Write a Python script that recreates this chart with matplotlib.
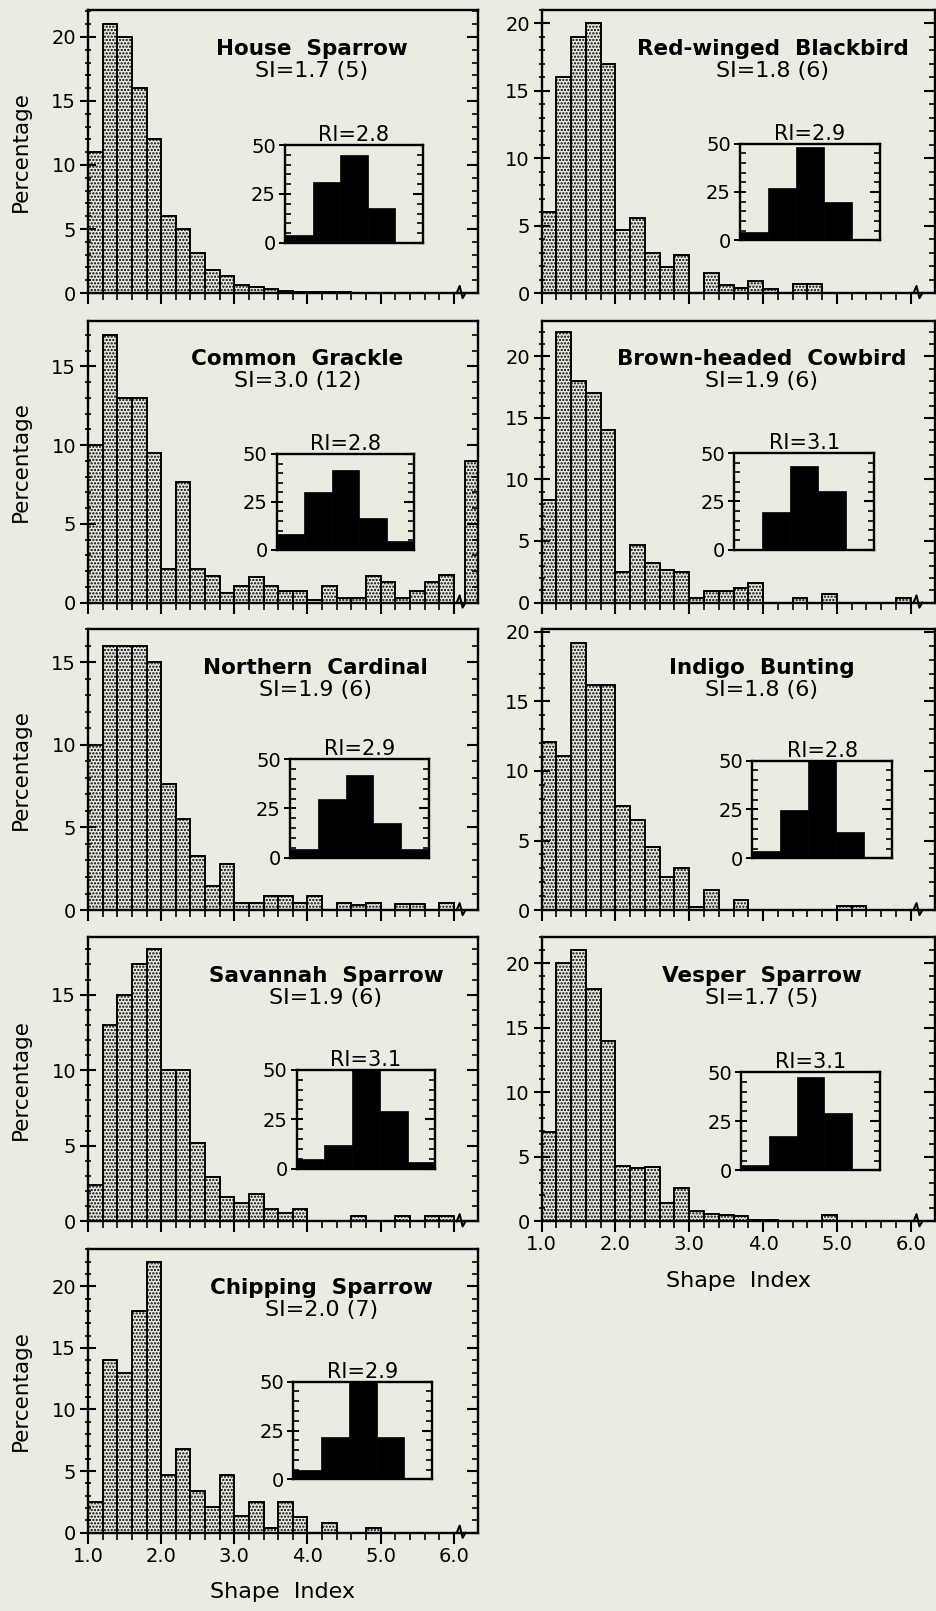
import numpy as np
import matplotlib
matplotlib.use("Agg")
from matplotlib import pyplot as plt
from matplotlib.ticker import MultipleLocator, FixedLocator, NullLocator
from matplotlib.transforms import blended_transform_factory

# Percentage of territories in each Shape Index class (bins of 0.2 from 1.0 to 6.0)
bin_left = np.round(np.arange(1.0, 6.0, 0.2), 1)

house_sparrow = [11, 21, 20, 16, 12, 6, 5, 3.1, 1.8, 1.3, 0.65, 0.5, 0.3, 0.15, 0.1,
                 0.1, 0.1, 0.05, 0, 0, 0, 0, 0, 0, 0]
red_winged = [6, 16, 19, 20, 17, 4.7, 5.6, 3.0, 1.9, 2.8, 0, 1.5, 0.6, 0.4, 0.9,
              0.3, 0, 0.7, 0.7, 0, 0, 0, 0, 0, 0]
grackle = [10, 17, 13, 13, 9.5, 2.1, 7.65, 2.1, 1.7, 0.6, 1.05, 1.6, 1.05, 0.75, 0.75,
           0.15, 1.05, 0.3, 0.3, 1.7, 1.3, 0.3, 0.75, 1.3, 1.75]
cowbird = [8.3, 22, 18, 17, 14, 2.5, 4.7, 3.2, 2.65, 2.5, 0.35, 0.95, 0.95, 1.15, 1.6,
           0, 0, 0.4, 0, 0.7, 0, 0, 0, 0, 0.4]
cardinal = [10, 16, 16, 16, 15, 7.6, 5.5, 3.3, 1.45, 2.8, 0.4, 0.4, 0.85, 0.85, 0.45,
            0.85, 0, 0.45, 0.3, 0.45, 0, 0.35, 0.35, 0, 0.45]
bunting = [12.1, 11.1, 19.2, 16.2, 16.2, 7.5, 6.5, 4.55, 2.4, 3.0, 0.25, 1.45, 0, 0.75, 0,
           0, 0, 0, 0, 0, 0.3, 0.3, 0, 0, 0]
savannah = [2.4, 13, 15, 17, 18, 10, 10, 5.2, 2.9, 1.6, 1.2, 1.8, 0.8, 0.55, 0.8,
            0, 0, 0, 0.35, 0, 0, 0.35, 0, 0.35, 0.35]
vesper = [6.9, 20, 21, 18, 14, 4.3, 4.1, 4.2, 1.4, 2.6, 0.8, 0.6, 0.5, 0.4, 0.1,
          0.1, 0, 0, 0, 0.5, 0, 0, 0, 0, 0]
chipping = [2.5, 14, 13, 18, 22, 4.7, 6.8, 3.4, 2.1, 4.7, 1.35, 2.5, 0.35, 2.5, 1.3,
            0, 0.8, 0, 0, 0.35, 0, 0, 0, 0, 0]

# only the grackle has territories beyond the axis break
over_six = {"Common Grackle": 9.0}

# inset: Regularity Index classes 1-5
ri_house = [4, 31, 45, 18, 0]
ri_redwing = [4.3, 27, 48, 20, 0]
ri_grackle = [8.2, 30, 41.8, 16.7, 4.4]
ri_cowbird = [0, 19.8, 43.4, 30.5, 0]
ri_cardinal = [4.3, 30, 42, 17.4, 4.3]
ri_bunting = [3.75, 24.7, 52, 13.7, 0]
ri_savannah = [5, 11.8, 52, 29.2, 3.4]
ri_vesper = [3, 17.7, 47.5, 29.2, 0]
ri_chipping = [5, 21.8, 52, 21.5, 0]

names = ["House Sparrow", "Red-winged Blackbird", "Common Grackle",
         "Brown-headed Cowbird", "Northern Cardinal", "Indigo Bunting",
         "Savannah Sparrow", "Vesper Sparrow", "Chipping Sparrow"]
si_labels = ["SI=1.7 (5)", "SI=1.8 (6)", "SI=3.0 (12)", "SI=1.9 (6)", "SI=1.9 (6)",
             "SI=1.8 (6)", "SI=1.9 (6)", "SI=1.7 (5)", "SI=2.0 (7)"]
ri_labels = ["RI=2.8", "RI=2.9", "RI=2.8", "RI=3.1", "RI=2.9", "RI=2.8", "RI=3.1",
             "RI=3.1", "RI=2.9"]
series = [house_sparrow, red_winged, grackle, cowbird, cardinal, bunting,
          savannah, vesper, chipping]
ri_series = [ri_house, ri_redwing, ri_grackle, ri_cowbird, ri_cardinal, ri_bunting,
             ri_savannah, ri_vesper, ri_chipping]
y_max = [22.1, 21, 17.9, 22.9, 17, 20.2, 18.8, 22, 23]

# layout (figure fractions, axes fractions)
BG = "#ecebe1"
col_x = [(0.0939, 0.4162), (0.5781, 0.4197)]
row_y = [(0.8181, 0.1757), (0.6260, 0.1750), (0.4351, 0.1744), (0.2419, 0.1763),
         (0.0486, 0.1759)]
title_x = [0.574, 0.587, 0.537, 0.559, 0.584, 0.559, 0.610, 0.559, 0.599]
inset_rect = [[0.505, 0.177, 0.354, 0.346], [0.504, 0.186, 0.356, 0.342],
              [0.484, 0.187, 0.352, 0.340], [0.490, 0.187, 0.355, 0.343],
              [0.518, 0.187, 0.356, 0.349], [0.536, 0.184, 0.355, 0.348],
              [0.535, 0.185, 0.356, 0.348], [0.507, 0.179, 0.353, 0.346],
              [0.526, 0.188, 0.357, 0.345]]
bottom_panels = {7, 8}

plt.rcParams["font.family"] = "DejaVu Sans"
plt.rcParams["hatch.linewidth"] = 1.1
LW = 1.7
HATCH = "....."


def right_ticks(ax, major, minor, lmaj, lmin):
    """inward ticks on the right edge, the left side keeps its own style"""
    axr = ax.twinx()
    axr.set_ylim(ax.get_ylim())
    axr.yaxis.set_major_locator(MultipleLocator(major))
    axr.yaxis.set_minor_locator(MultipleLocator(minor))
    axr.tick_params(which="major", direction="in", length=lmaj, width=1.5, labelright=False)
    axr.tick_params(which="minor", direction="in", length=lmin, width=1.2)
    for s in axr.spines.values():
        s.set_visible(False)
    return axr


fig = plt.figure(figsize=(9.37, 16.11), dpi=100, facecolor=BG)

for i, name in enumerate(names):
    col = i % 2
    row = i // 2
    x0, w = col_x[col]
    y0, h = row_y[row]
    ax = fig.add_axes([x0, y0, w, h], facecolor=BG)

    ax.bar(bin_left, series[i], width=0.2, align="edge", facecolor=BG,
           edgecolor="black", linewidth=1.4, hatch=HATCH)
    if name in over_six:
        ax.bar([6.15], [over_six[name]], width=0.18, align="edge", facecolor=BG,
               edgecolor="black", linewidth=1.4, hatch=HATCH)

    ax.set_xlim(1.0, 6.33)
    ax.set_ylim(0, y_max[i])
    ax.xaxis.set_major_locator(FixedLocator([1, 2, 3, 4, 5, 6]))
    ax.xaxis.set_minor_locator(FixedLocator(np.round(np.arange(1.0, 6.01, 0.2), 1)))
    ax.yaxis.set_major_locator(MultipleLocator(5))
    ax.yaxis.set_minor_locator(MultipleLocator(1))
    ax.tick_params(axis="y", which="major", direction="inout", length=11, width=1.5,
                   labelsize=14, pad=3)
    ax.tick_params(axis="y", which="minor", direction="inout", length=5, width=1.2)
    ax.tick_params(axis="x", which="major", direction="out", length=8, width=1.5,
                   labelsize=14, pad=2)
    ax.tick_params(axis="x", which="minor", direction="out", length=5, width=1.2)
    for s in ax.spines.values():
        s.set_linewidth(LW)

    if i in bottom_panels:
        ax.set_xticklabels(["1.0", "2.0", "3.0", "4.0", "5.0", "6.0"])
        ax.set_xlabel("Shape  Index", fontsize=16, labelpad=12)
    else:
        ax.tick_params(axis="x", labelbottom=False)
    if col == 0:
        ax.set_ylabel("Percentage", fontsize=15.5, labelpad=15)

    right_ticks(ax, 5, 1, 8, 4)

    # axis break on the x axis
    tr = blended_transform_factory(ax.transData, ax.transAxes)
    ax.plot([6.04, 6.08, 6.12, 6.16], [0.0, 0.025, -0.018, 0.0], transform=tr,
            color="black", lw=1.5, clip_on=False, zorder=5)

    ax.text(title_x[i], 0.862, name.replace(" ", "  "), transform=ax.transAxes,
            ha="center", va="center", fontsize=15.5, fontweight="bold")
    ax.text(title_x[i], 0.785, si_labels[i], transform=ax.transAxes,
            ha="center", va="center", fontsize=16)

    ins = ax.inset_axes(inset_rect[i], facecolor=BG)
    ins.bar(np.arange(5), ri_series[i], width=1, align="edge", color="black",
            edgecolor="black", linewidth=0.5)
    ins.set_xlim(0, 5)
    ins.set_ylim(0, 50)
    ins.xaxis.set_major_locator(NullLocator())
    ins.yaxis.set_major_locator(FixedLocator([0, 25, 50]))
    ins.yaxis.set_minor_locator(MultipleLocator(5))
    ins.tick_params(axis="y", which="major", direction="inout", length=9, width=1.4,
                    labelsize=14, pad=2)
    ins.tick_params(axis="y", which="minor", direction="in", length=4, width=1.2)
    for s in ins.spines.values():
        s.set_linewidth(LW)
    right_ticks(ins, 25, 5, 7, 4)
    ins.set_title(ri_labels[i], fontsize=15, pad=1)

fig.savefig("out.png", dpi=100, facecolor=BG)
